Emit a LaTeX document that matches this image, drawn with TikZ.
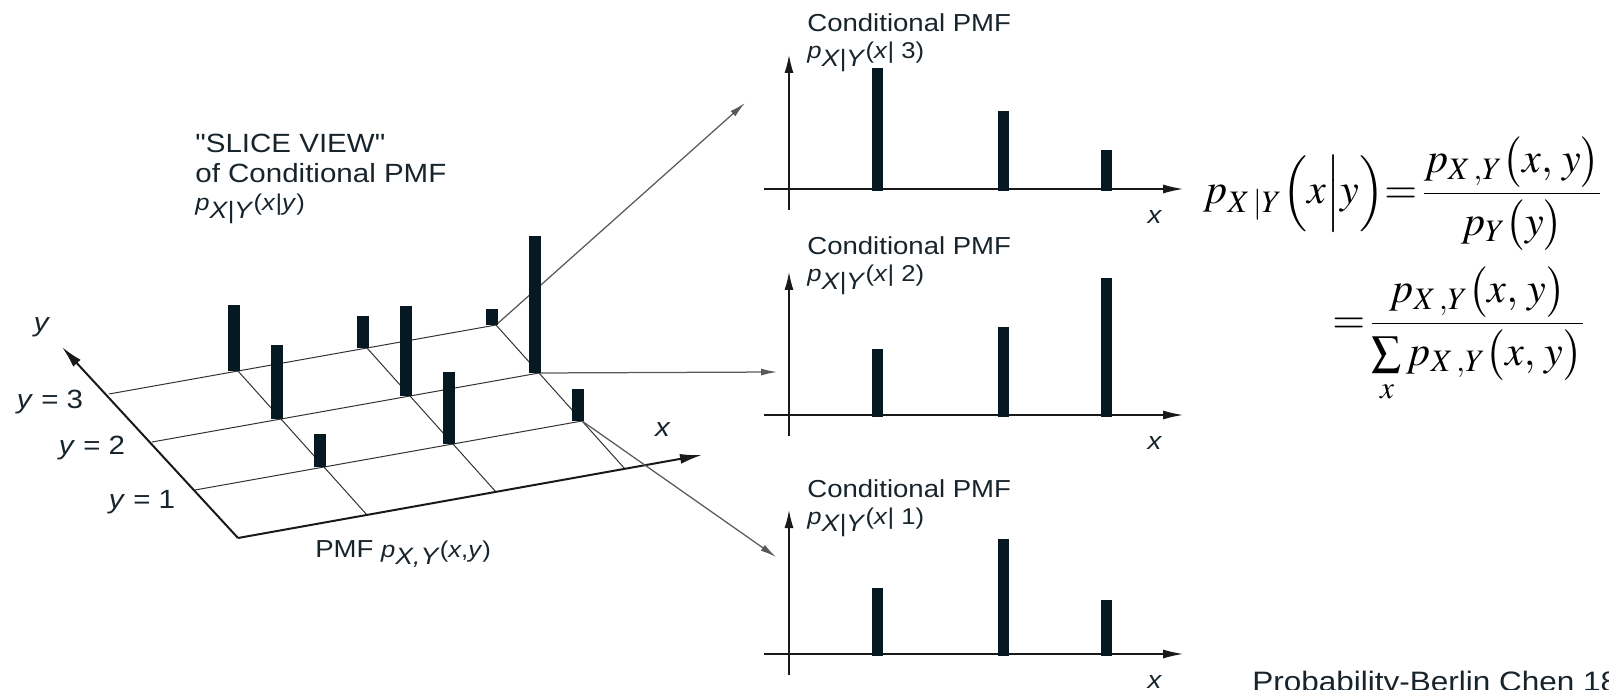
\documentclass[tikz,border=0pt]{standalone}
\usepackage{amsmath}
\usepackage{mathptmx}
\usepackage[no-math]{fontspec}
\setsansfont[FakeStretch=1.12, Ligatures=TeXOff]{Liberation Sans}
\usetikzlibrary{arrows.meta}

\definecolor{ink}{RGB}{24,36,44}
\definecolor{barc}{RGB}{6,24,34}

\tikzstyle{gl} = [draw=black!80, line width=0.2mm]
\tikzstyle{ax} = [draw=black!90, line width=0.4mm, -{Latex[length=4.4mm,width=2mm]}]
\tikzstyle{ca} = [draw=black!90, line width=0.25mm]
\tikzstyle{cn} = [draw=black!65, line width=0.25mm, -{Latex[length=3.2mm,width=1.4mm]}]
\tikzstyle{br} = [fill=barc]
\tikzstyle{tx} = [text=ink, font=\sffamily\fontsize{14}{17}\selectfont]
\tikzstyle{sx} = [text=ink, font=\sffamily\fontsize{15}{18}\selectfont]
\tikzstyle{every node}=[inner sep=0pt]

\newcommand{\plab}[2]{{\fontsize{13}{15}\selectfont\textit{p}}\raisebox{-0.3em}{\fontsize{13.5}{15}\selectfont\textit{#1}}{\fontsize{13}{15}\selectfont(#2)}}

\begin{document}
\begin{tikzpicture}[x=0.2mm, y=-0.2mm]
\useasboundingbox (0,0) rectangle (1609,690);

% joint PMF grid
\foreach \i in {0,...,3}
  \foreach \j in {0,...,3}
    \coordinate (g\i\j) at ({238+129*\i-43*\j},{538-23*\i-48*\j});
\foreach \j in {1,2,3} \draw[gl] (g0\j) -- (g3\j);
\foreach \i in {1,2,3} \draw[gl] (g\i0) -- (g\i3);
\coordinate (xt) at (702,455);
\coordinate (yt) at (62,347);
\draw[ax] (g00) -- (xt);
\draw[ax] (g00) -- (yt);

% slices
\coordinate (a3) at (745,103);
\coordinate (a2) at (777,372);
\coordinate (a1) at (776,557);
\draw[cn] (g33) -- (a3);
\draw[cn] (g32) -- (a2);
\draw[cn] (g31) -- (a1);

\foreach \i/\j/\h in {1/1/33, 1/2/74, 1/3/66, 2/1/72, 2/2/90, 2/3/32, 3/1/32, 3/2/137, 3/3/16}
  \fill[br] ([xshift=-2mm]g\i\j) rectangle ([xshift=0.4mm,yshift={\h*0.2mm}]g\i\j);

\node[sx] (yl) at (42,327) {\textit{y}};
\node[sx] (y3) at (50,402) {\textit{y} = 3};
\node[sx] (y2) at (92,448) {\textit{y} = 2};
\node[sx] (y1) at (142,502) {\textit{y} = 1};
\node[sx] (xl) at (663,430) {\textit{x}};
\node[tx, anchor=base west] (jp) at (315,557) {PMF \plab{X,Y}{\textit{x},\textit{y}}};

\node[sx, anchor=base west] (sv1) at (195,153) {"SLICE VIEW"};
\node[sx, anchor=base west] (sv2) at (195,183) {of Conditional PMF};
\node[sx, anchor=base west] (sv3) at (195,211) {\plab{X|Y}{\textit{x}|\textit{y}}};

% conditional PMFs
\foreach \k/\ay/\ty/\ly/\ha/\hb/\hc in {3/189/55/32/121/78/39, 2/415/272/255/66/88/137, 1/654/510/497/66/115/54}{
  \draw[ca,-{Latex[length=4mm,width=1.8mm]}] (764,\ay) -- (1183,\ay);
  \draw[ca,-{Latex[length=3.6mm,width=1.8mm]}] (789,{\ay+21}) -- (789,\ty);
  \fill[br] (872,{\ay+2}) rectangle (883,{\ay-\ha});
  \fill[br] (998,{\ay+2}) rectangle (1009,{\ay-\hb});
  \fill[br] (1101,{\ay+2}) rectangle (1112,{\ay-\hc});
  \node[tx, anchor=base west] (c\k) at (807,\ly) {Conditional PMF};
  \node[tx, anchor=base west] (p\k) at (807,{\ly+27}) {\plab{X|Y}{\textit{x}| \k}};
  \node[tx] (x\k) at (1155,{\ay+28}) {\textit{x}};
}

% formula
\node[anchor=base west, font=\fontsize{24}{29}\selectfont] (f1) at (1203,204)
  {$p_{X\,|Y}\Bigl(x\Big|y\Bigr)\!\!=\!\dfrac{p_{X\,,Y}\bigl(x,\,y\bigr)}{p_Y\bigl(y\bigr)}$};
\node[anchor=base west, font=\fontsize{24}{29}\selectfont] (f2) at (1332,334)
  {$=\!\dfrac{p_{X\,,Y}\bigl(x,\,y\bigr)}{\sum\limits_x p_{X\,,Y}\bigl(x,\,y\bigr)}$};

\node[tx, anchor=base west, font=\sffamily\fontsize{16}{19}\selectfont] (ft) at (1252,691) {Probability-Berlin Chen 18};
\end{tikzpicture}
\end{document}
